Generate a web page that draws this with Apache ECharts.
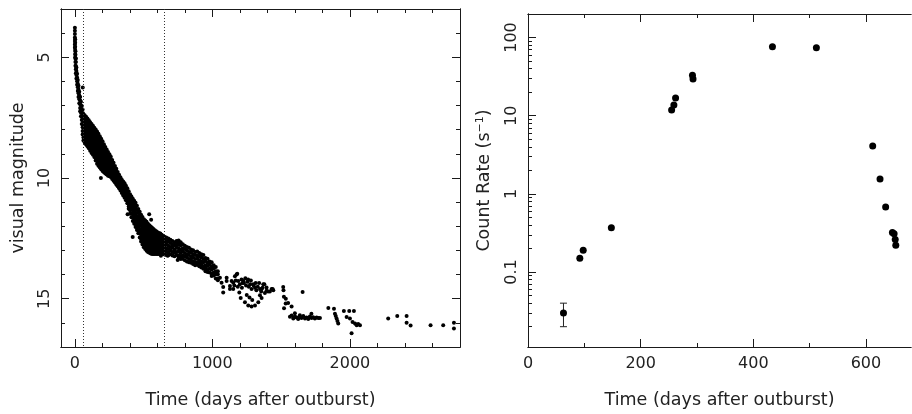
<!DOCTYPE html>
<html><head><meta charset="utf-8">
<script src="https://cdn.jsdelivr.net/npm/echarts@6/dist/echarts.min.js"></script>
<style>html,body{margin:0;padding:0;background:#fff}#c{width:912px;height:414px}</style>
</head><body><div id="c"></div>
<script>
// ---------- Left panel: optical light curve (day after outburst, visual magnitude) ----------
// Dense part read as columns: [day, [magnitudes seen in that column]]
const lcColumns = [
[1,[3.78,3.9,4.04,4.18,4.33,4.47,4.6]],
[3,[4.25,4.4,4.56,4.7,4.86,5.0]],
[5,[4.75,4.9,5.06,5.2,5.35]],
[8,[5.05,5.2,5.36,5.5,5.66]],
[12,[5.42,5.57,5.73,5.88]],
[17,[5.68,5.84,5.99,6.14]],
[22,[5.94,6.1,6.24,6.4]],
[27,[6.18,6.33,6.49,6.64]],
[33,[6.43,6.58,6.74,6.9]],
[39,[6.64,6.79,6.95,7.1,7.24]],
[45,[6.84,7.0,7.14,7.3,7.44]],
[51,[7.02,7.16,7.31,7.46,7.6,7.76]],
[57,[7.16,7.3,7.46,7.6,7.76,7.9,8.05,8.2]],
[63,[7.35,7.49,7.62,7.77,7.9,8.05,8.18,8.32,8.45]],
[72,[7.4,7.55,7.68,7.83,7.96,8.11,8.24,8.39,8.53]],
[82,[7.46,7.6,7.75,7.88,8.03,8.17,8.31,8.46,8.61]],
[92,[7.54,7.68,7.83,7.96,8.11,8.25,8.4,8.54,8.69]],
[102,[7.61,7.76,7.9,8.04,8.19,8.33,8.48,8.62,8.77]],
[112,[7.69,7.83,7.98,8.12,8.27,8.42,8.57,8.72,8.87]],
[122,[7.76,7.91,8.06,8.2,8.36,8.5,8.66,8.8,8.96]],
[132,[7.84,7.99,8.14,8.28,8.44,8.59,8.74,8.89,9.04]],
[142,[7.92,8.07,8.22,8.37,8.52,8.68,8.83,8.98,9.13]],
[152,[7.99,8.14,8.3,8.45,8.6,8.76,8.91,9.06,9.18,9.28]],
[162,[8.07,8.22,8.37,8.52,8.68,8.83,8.98,9.13,9.27,9.41]],
[172,[8.17,8.32,8.47,8.62,8.76,8.91,9.06,9.2,9.35,9.49]],
[182,[8.27,8.42,8.57,8.71,8.86,9.0,9.14,9.28,9.42,9.56]],
[192,[8.37,8.52,8.66,8.81,8.95,9.09,9.23,9.37,9.5,9.64]],
[202,[8.48,8.62,8.76,8.9,9.04,9.18,9.31,9.45,9.58,9.71]],
[212,[8.6,8.74,8.88,9.02,9.15,9.29,9.42,9.56,9.66,9.76]],
[222,[8.72,8.85,8.99,9.12,9.26,9.39,9.52,9.64,9.73,9.81]],
[232,[8.82,8.95,9.09,9.22,9.35,9.48,9.6,9.72,9.86]],
[242,[8.92,9.05,9.18,9.31,9.44,9.56,9.68,9.8,9.91]],
[252,[9.02,9.15,9.28,9.41,9.53,9.65,9.77,9.87,9.93]],
[262,[9.12,9.25,9.38,9.5,9.62,9.74,9.85,9.96]],
[272,[9.25,9.37,9.5,9.62,9.74,9.86,9.96,10.04]],
[282,[9.37,9.5,9.62,9.74,9.86,9.97,10.05,10.11]],
[292,[9.5,9.62,9.74,9.86,9.97,10.08,10.19]],
[302,[9.62,9.74,9.86,9.97,10.08,10.18,10.27]],
[312,[9.75,9.86,9.97,10.08,10.18,10.27,10.34]],
[322,[9.87,9.98,10.09,10.2,10.3,10.42]],
[332,[9.97,10.08,10.19,10.3,10.41,10.52]],
[342,[10.07,10.18,10.29,10.4,10.51,10.62]],
[352,[10.14,10.26,10.38,10.49,10.61,10.72]],
[362,[10.22,10.34,10.46,10.58,10.7,10.82]],
[372,[10.32,10.44,10.56,10.68,10.8,10.92]],
[382,[10.42,10.55,10.68,10.8,10.93,11.05]],
[392,[10.55,10.68,10.81,10.94,11.07,11.18,11.27]],
[402,[10.67,10.8,10.93,11.06,11.2,11.34,11.48]],
[412,[10.77,10.9,11.04,11.18,11.32,11.47,11.63]],
[422,[10.86,11.0,11.14,11.29,11.44,11.6,11.78]],
[432,[10.94,11.08,11.23,11.38,11.54,11.7,11.9]],
[442,[11.03,11.18,11.33,11.49,11.64,11.8,11.92,12.03]],
[452,[11.15,11.3,11.45,11.6,11.75,11.9,12.03,12.15]],
[462,[11.28,11.43,11.58,11.72,11.87,12.02,12.16,12.29]],
[472,[11.4,11.55,11.7,11.84,11.99,12.14,12.29,12.46]],
[482,[11.52,11.67,11.81,11.96,12.11,12.26,12.41,12.53,12.63]],
[492,[11.62,11.77,11.91,12.06,12.21,12.36,12.5,12.63,12.75]],
[502,[11.71,11.86,12.0,12.15,12.3,12.45,12.6,12.74,12.87]],
[512,[11.76,11.91,12.06,12.2,12.35,12.5,12.65,12.8,12.94]],
[522,[11.81,11.96,12.11,12.26,12.41,12.56,12.71,12.86,13.01]],
[532,[11.89,12.04,12.19,12.33,12.48,12.63,12.78,12.92,13.06]],
[542,[11.96,12.11,12.26,12.4,12.55,12.69,12.83,12.97,13.1]],
[552,[12.01,12.16,12.3,12.45,12.59,12.73,12.87,13.0,13.13]],
[562,[12.06,12.21,12.35,12.5,12.64,12.78,12.91,13.04,13.15]],
[572,[12.11,12.26,12.4,12.54,12.68,12.82,12.95,13.07,13.15]],
[582,[12.16,12.3,12.44,12.58,12.72,12.86,12.99,13.1,13.15]],
[592,[12.21,12.35,12.49,12.63,12.76,12.89,13.02,13.15]],
[602,[12.25,12.39,12.53,12.66,12.79,12.92,13.04,13.15]],
[612,[12.28,12.42,12.55,12.68,12.81,12.94,13.06,13.15]],
[622,[12.3,12.44,12.57,12.7,12.83,12.96,13.07,13.15]],
[632,[12.35,12.48,12.61,12.74,12.86,12.98,13.08,13.15]],
[642,[12.4,12.53,12.66,12.78,12.9,13.02,13.15]],
[652,[12.43,12.56,12.69,12.81,12.93,13.05,13.17]],
[665,[12.46,12.61,12.74,12.91,13.04,13.19]],
[680,[12.51,12.64,12.81,12.94,13.09,13.2]],
[695,[12.56,12.69,12.86,12.99,13.16]],
[710,[12.61,12.76,12.89,13.06,13.21]],
[725,[12.66,12.79,12.96,13.09,13.24]],
[740,[12.61,12.76,12.89,13.06,13.19]],
[755,[12.59,12.76,12.91,13.04,13.21,13.3]],
[770,[12.66,12.79,12.96,13.11,13.24,13.36]],
[785,[12.74,12.91,13.04,13.21,13.34]],
[800,[12.81,12.94,13.11,13.24,13.41]],
[815,[12.86,12.99,13.16,13.29,13.46]],
[830,[12.89,13.06,13.19,13.36,13.49]],
[845,[12.96,13.09,13.26,13.39,13.51]],
[860,[12.99,13.16,13.29,13.46,13.56]],
[875,[13.06,13.19,13.36,13.49,13.61]],
[890,[13.04,13.21,13.34,13.51,13.59]],
[905,[13.11,13.24,13.41,13.54,13.66]],
[920,[13.16,13.29,13.46,13.59,13.71]],
[935,[13.19,13.36,13.49,13.66,13.76]],
[950,[13.31,13.44,13.61,13.74,13.86]],
[965,[13.34,13.51,13.64,13.81,13.89]],
[980,[13.46,13.59,13.76,13.91]],
[995,[13.49,13.66,13.79,13.96,14.06]],
[1010,[13.61,13.74,13.91,14.04]],
[1025,[13.69,13.86,13.99,14.16]],
[1040,[13.86,13.99,14.16,14.24]]
];
// Isolated points: [day, magnitude]
const lcPoints = [
[58,6.25],[190,10.0],[384,11.5],[421,12.44],[541,11.5],[555,11.73],[626,13.22],[675,13.22],[748,12.65],[748,13.4],
[1055,14.13],[1067,14.34],[1079,14.51],[1079,14.74],[1104,14.27],[1104,14.13],[1128,14.47],[1128,14.6],
[1140,14.27],[1152,14.6],[1152,14.34],[1160,14.45],[1164,14.07],[1170,14.25],[1176,14.0],[1181,13.97],
[1185,14.5],[1188,14.27],[1196,14.74],[1200,14.4],[1206,14.97],[1212,14.2],[1215,14.55],[1220,14.35],
[1225,14.27],[1230,14.35],[1237,15.15],[1240,14.15],[1245,14.45],[1250,14.85],[1255,14.3],[1260,14.2],
[1261,15.28],[1265,14.5],[1270,14.95],[1275,14.4],[1280,14.25],[1285,15.32],[1285,14.6],[1290,15.05],
[1297,14.4],[1300,14.45],[1310,15.28],[1310,14.55],[1315,14.35],[1320,14.65],[1330,14.5],[1334,15.15],
[1340,14.35],[1346,14.6],[1346,14.86],[1355,14.7],[1358,14.97],[1358,14.6],[1365,14.55],[1370,14.4],
[1378,14.4],[1382,14.76],[1394,14.54],[1394,14.67],[1405,14.7],[1418,14.7],[1431,14.6],[1438,14.6],[1443,14.65],
[1515,14.51],[1517,14.65],[1520,14.92],[1534,15.0],[1533,15.2],[1551,15.18],[1576,15.32],[1521,15.39],
[1564,15.75],[1576,15.7],[1588,15.82],[1600,15.74],[1612,15.78],[1624,15.84],[1636,15.76],[1648,15.8],
[1661,15.72],[1673,15.82],[1685,15.78],[1697,15.84],[1709,15.74],[1721,15.8],[1733,15.77],[1745,15.82],
[1758,15.78],[1770,15.8],[1782,15.8],[1600,15.6],[1636,15.68],[1720,15.62],[1656,14.72],
[1843,15.38],[1884,15.42],[1891,15.62],[1897,15.72],[1903,15.82],[1909,15.92],[1915,16.03],
[1956,15.51],[1995,15.51],[2029,15.51],[1976,15.76],[2000,15.82],[2019,15.96],[2037,16.03],
[2049,16.1],[2073,16.1],[2060,16.05],[2012,16.43],
[2278,15.82],[2344,15.72],[2412,15.72],[2412,16.0],[2441,16.11],[2586,16.1],[2678,16.1],[2756,16.0],[2756,16.23]
];
const xrayWindow = [62, 652];           // dotted lines: first / last X-ray observation
const dayTicksL = [0, 1000, 2000];
const dayMinorL = [200,400,600,800,1200,1400,1600,1800,2200,2400,2600];
const magTicks = [5, 10, 15];
const magMinor = [4,6,7,8,9,11,12,13,14,16];

// ---------- Right panel: X-ray count rate ----------
const xrayDays  = [63, 92, 98, 148, 255, 259, 262, 292, 293, 434, 512, 612, 625, 635, 647, 650, 652, 653];
const xrayRates = [0.030, 0.15, 0.19, 0.37, 11.8, 13.7, 16.9, 33, 29.5, 76, 74, 4.1, 1.55, 0.68, 0.32, 0.31, 0.26, 0.22];
const xrayErrors = [[63, 0.020, 0.040]]; // [day, low, high]
const dayTicksR = [0, 200, 400, 600];
const dayMinorR = [100, 300, 500];
const rateTicks = [0.1, 1, 10, 100];
const rateTickLabels = ['0.1', '1', '10', '100'];
const rateMin = 0.011, rateMax = 200;

// ---------- build ----------
const FONT = "'DejaVu Sans', sans-serif";
const AX = '#1a1a1a';
const lcData = [];
lcColumns.forEach(([d, ms]) => ms.forEach(m => lcData.push([d, m])));
lcPoints.forEach(p => lcData.push(p));
const xrayData = xrayDays.map((d, i) => [d, xrayRates[i]]);

const rateMinor = [];
for (let k = -2; k <= 2; k++) for (let m = 2; m <= 9; m++) {
  const v = m * Math.pow(10, k);
  if (v > rateMin * 1.0001 && v < rateMax * 0.9999) rateMinor.push(Math.log10(v));
}
const lg = Math.log10;

function ax(gridIndex, position, min, max, ticks, len, extra) {
  return Object.assign({
    type: 'value', gridIndex, position, min, max,
    axisLine: {show: true, onZero: false, lineStyle: {color: AX, width: 1}},
    axisTick: {show: true, inside: true, length: len, customValues: ticks, lineStyle: {color: AX, width: 1}},
    axisLabel: {show: false},
    splitLine: {show: false},
    axisPointer: {show: false}
  }, extra || {});
}
const hidden = {axisLine: {show: false, onZero: false}, axisTick: {show: false}};
const labelStyle = {show: true, fontSize: 16, fontFamily: FONT, color: '#222', formatter: v => String(v)};
const nameStyle = {fontSize: 17.5, fontFamily: FONT, color: '#222'};

const X1MAX = 680;
const xAxis = [
  // grid 0
  ax(0, 'bottom', -100, 2800, dayTicksL, 8, {
    axisLabel: Object.assign({}, labelStyle, {customValues: dayTicksL, margin: 9}),
    name: 'Time (days after outburst)', nameLocation: 'middle', nameGap: 44, nameTextStyle: nameStyle}),
  ax(0, 'top', -100, 2800, dayTicksL, 8),
  ax(0, 'top', -100, 2800, dayMinorL, 4),
  ax(0, 'bottom', -100, 2800, dayMinorL, 4),
  // grid 1
  ax(1, 'bottom', 0, X1MAX, dayTicksR, 8, {
    axisLabel: Object.assign({}, labelStyle, {customValues: dayTicksR, margin: 9}),
    name: 'Time (days after outburst)', nameLocation: 'middle', nameGap: 44, nameTextStyle: nameStyle}),
  ax(1, 'top', 0, X1MAX, dayTicksR, 8),
  ax(1, 'top', 0, X1MAX, dayMinorR, 4),
  ax(1, 'bottom', 0, X1MAX, dayMinorR, 4)
];
const yAxis = [
  // grid 0 (inverted magnitude)
  ax(0, 'left', 3, 17, magTicks, 8, {inverse: true,
    axisLabel: Object.assign({}, labelStyle, {customValues: magTicks, rotate: 90, margin: 8}),
    name: 'visual magnitude', nameLocation: 'middle', nameGap: 34, nameTextStyle: nameStyle}),
  ax(0, 'right', 3, 17, magTicks, 8, {inverse: true}),
  ax(0, 'right', 3, 17, magMinor, 4, {inverse: true}),
  ax(0, 'left', 3, 17, magMinor, 4, {inverse: true}),
  // grid 1 (tick axes in log10 space)
  ax(1, 'left', lg(rateMin), lg(rateMax), rateTicks.map(lg), 8, {
    axisLabel: Object.assign({}, labelStyle, {customValues: rateTicks.map(lg), rotate: 90, margin: 8,
      formatter: v => { const i = rateTicks.findIndex(t => Math.abs(lg(t) - v) < 1e-6); return i >= 0 ? rateTickLabels[i] : ''; }
    }),
    name: 'Count Rate (s{sup|−1})', nameLocation: 'middle', nameGap: 34,
    nameTextStyle: Object.assign({rich: {sup: {fontSize: 11, fontFamily: FONT, color: '#222', verticalAlign: 'top', padding: [0, 0, 8, 0]}}}, nameStyle)}),
  ax(1, 'right', lg(rateMin), lg(rateMax), rateTicks.map(lg), 8, hidden),
  ax(1, 'right', lg(rateMin), lg(rateMax), rateMinor, 4, hidden),
  ax(1, 'left', lg(rateMin), lg(rateMax), rateMinor, 4),
  // grid 1 data axis (log)
  {type: 'log', gridIndex: 1, position: 'left', min: rateMin, max: rateMax, logBase: 10,
   axisLine: {show: false, onZero: false}, axisTick: {show: false}, axisLabel: {show: false}, splitLine: {show: false}}
];

const chart = echarts.init(document.getElementById('c'), null, {renderer: 'canvas'});
chart.setOption({
  animation: false,
  backgroundColor: '#fff',
  textStyle: {fontFamily: FONT},
  grid: [
    {left: 61, top: 9, width: 399, height: 345},
    {left: 528, top: 14, width: 383, height: 341}
  ],
  xAxis, yAxis,
  series: [
    {type: 'scatter', xAxisIndex: 0, yAxisIndex: 0, data: lcData, symbol: 'circle', symbolSize: 4,
     itemStyle: {color: '#000', opacity: 1}, silent: true,
     markLine: {silent: true, symbol: ['none', 'none'], label: {show: false},
       lineStyle: {type: [1, 2], color: '#333', width: 1},
       data: xrayWindow.map(d => ({xAxis: d}))}},
    {type: 'custom', xAxisIndex: 4, yAxisIndex: 8, data: xrayErrors, silent: true,
     encode: {x: 0, y: [1, 2]},
     renderItem: (params, api) => {
       const x = api.value(0), lo = api.value(1), hi = api.value(2);
       const a = api.coord([x, lo]), b = api.coord([x, hi]);
       const w = 3.5, st = {stroke: '#222', lineWidth: 1};
       return {type: 'group', children: [
         {type: 'line', shape: {x1: a[0], y1: a[1], x2: b[0], y2: b[1]}, style: st},
         {type: 'line', shape: {x1: a[0] - w, y1: a[1], x2: a[0] + w, y2: a[1]}, style: st},
         {type: 'line', shape: {x1: b[0] - w, y1: b[1], x2: b[0] + w, y2: b[1]}, style: st}
       ]};
     }},
    {type: 'scatter', xAxisIndex: 4, yAxisIndex: 8, data: xrayData, symbol: 'circle', symbolSize: 7,
     itemStyle: {color: '#000', opacity: 1}, silent: true}
  ]
});
</script></body></html>
